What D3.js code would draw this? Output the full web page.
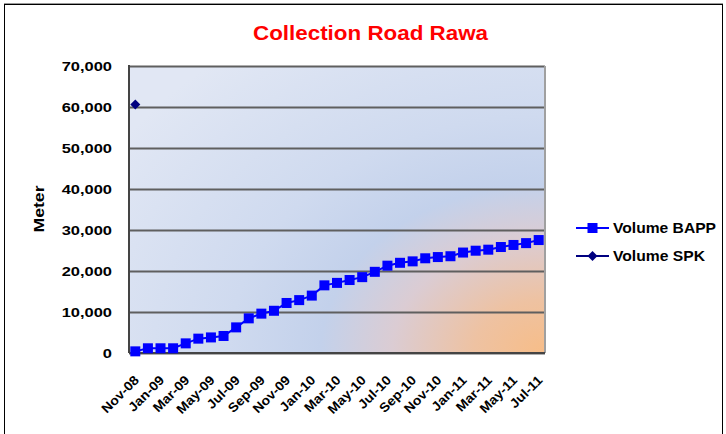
<!DOCTYPE html>
<html>
<head>
<meta charset="utf-8">
<script src="https://cdn.jsdelivr.net/npm/d3@7"></script>
<style>
  body { margin: 0; background: #fff; }
  text { font-family: "Liberation Sans", Arial, sans-serif; }
</style>
</head>
<body>
<svg width="726" height="434"></svg>
<script>
const months = ["Nov-08","Dec-08","Jan-09","Feb-09","Mar-09","Apr-09","May-09","Jun-09","Jul-09","Aug-09","Sep-09","Oct-09",
  "Nov-09","Dec-09","Jan-10","Feb-10","Mar-10","Apr-10","May-10","Jun-10","Jul-10","Aug-10","Sep-10","Oct-10",
  "Nov-10","Dec-10","Jan-11","Feb-11","Mar-11","Apr-11","May-11","Jun-11","Jul-11"];
const volumeBAPP = [400,1150,1150,1150,2350,3500,3800,4150,6250,8450,9600,10300,12200,12900,14000,16500,17100,17800,
  18500,19800,21300,22000,22350,23100,23400,23600,24500,24950,25200,25850,26350,26800,27550];
const volumeSPK = [60600];
const yTicks = [0,10000,20000,30000,40000,50000,60000,70000];

(function () {
  "use strict";
  const svg = d3.select("svg");
  const margin = { top: 66, left: 129 };
  const innerWidth = 416, innerHeight = 287;

  // outer chart frame
  svg.append("rect").attr("x", 4.5).attr("y", 4.5).attr("width", 718).attr("height", 440)
    .attr("fill", "none").attr("stroke", "#000").attr("stroke-width", 1);
  svg.append("line").attr("x1", 4).attr("x2", 723).attr("y1", 3.5).attr("y2", 3.5).attr("stroke", "#999");

  const defs = svg.append("defs");
  const rad = defs.append("radialGradient").attr("id", "bgRad")
    .attr("gradientUnits", "userSpaceOnUse").attr("cx", innerWidth).attr("cy", innerHeight).attr("r", 510)
    .attr("gradientTransform", `translate(${innerWidth},${innerHeight}) scale(1,0.75) translate(${-innerWidth},${-innerHeight})`);
  [[0, "#f7bd88"], [0.14, "#eec2a2"], [0.3, "#dbccd3"], [0.44, "#c3d1eb"], [0.62, "#cfdaef"], [1, "#e1e7f4"]]
    .forEach(([o, c]) => rad.append("stop").attr("offset", o).attr("stop-color", c));

  const g = svg.append("g").attr("transform", `translate(${margin.left},${margin.top})`);

  const xScale = d3.scalePoint().domain(months).range([0, innerWidth]).padding(0.5);
  const yScale = d3.scaleLinear().domain([0, 70000]).range([innerHeight, 0]);

  g.append("rect").attr("width", innerWidth).attr("height", innerHeight).attr("fill", "url(#bgRad)");

  // grid + y axis
  const yAxis = d3.axisLeft(yScale).tickValues(yTicks).tickSize(-innerWidth).tickPadding(0)
    .tickFormat(d3.format(","));
  const yAxisG = g.append("g").call(yAxis);
  yAxisG.select(".domain").remove();
  yAxisG.selectAll(".tick line").attr("stroke", "#5f5f5f").attr("stroke-width", 2);
  yAxisG.selectAll(".tick text").attr("font-size", 13.5).attr("font-weight", "bold").attr("fill", "#000")
    .attr("x", 0).attr("dy", "0.36em").attr("transform", "translate(-17,0) scale(1.22,1)");

  g.append("line").attr("x1", innerWidth).attr("x2", innerWidth).attr("y1", 0).attr("y2", innerHeight)
    .attr("stroke", "#a0a0a0").attr("stroke-width", 2);
  g.append("line").attr("x1", 0).attr("x2", 0).attr("y1", -1).attr("y2", innerHeight)
    .attr("stroke", "#444").attr("stroke-width", 2);
  g.append("line").attr("x1", 0).attr("x2", innerWidth).attr("y1", innerHeight).attr("y2", innerHeight)
    .attr("stroke", "#444").attr("stroke-width", 2);

  // x axis labels (every other month)
  const xAxis = d3.axisBottom(xScale).tickValues(months.filter((d, i) => i % 2 === 0)).tickSize(0);
  const xAxisG = g.append("g").attr("transform", `translate(0,${innerHeight})`).call(xAxis);
  xAxisG.select(".domain").remove();
  xAxisG.selectAll(".tick text")
    .attr("font-size", 13).attr("font-weight", "bold").attr("fill", "#000")
    .attr("text-anchor", "end").attr("dy", 0).attr("y", 0)
    .attr("transform", "translate(4,28) rotate(-45) scale(1.08,1)");

  svg.append("text").attr("transform", "translate(44,209) rotate(-90)")
    .attr("text-anchor", "middle").attr("font-size", 15).attr("font-weight", "bold")
    .attr("textLength", 47).attr("lengthAdjust", "spacingAndGlyphs").text("Meter");

  svg.append("text").attr("x", 370.5).attr("y", 40).attr("text-anchor", "middle")
    .attr("font-size", 20).attr("font-weight", "bold").attr("fill", "#ff0000")
    .attr("textLength", 235).attr("lengthAdjust", "spacingAndGlyphs").text("Collection Road Rawa");

  // series
  const line = d3.line().x((d, i) => xScale(months[i])).y((d) => yScale(d));
  g.append("path").attr("d", line(volumeBAPP)).attr("fill", "none").attr("stroke", "#0000ff").attr("stroke-width", 2);
  g.selectAll(".bapp").data(volumeBAPP).join("rect").attr("class", "bapp")
    .attr("x", (d, i) => xScale(months[i]) - 5).attr("y", (d) => yScale(d) - 5)
    .attr("width", 10).attr("height", 10).attr("fill", "#0000ff");

  const diamond = "M0,-5L5,0L0,5L-5,0Z";
  g.selectAll(".spk").data(volumeSPK).join("path").attr("class", "spk")
    .attr("transform", (d, i) => `translate(${xScale(months[i])},${yScale(d)})`)
    .attr("d", diamond).attr("fill", "#000080");

  // legend
  const legend = svg.append("g").attr("transform", "translate(576,228)");
  legend.append("line").attr("x1", 0).attr("x2", 33).attr("stroke", "#0000ff").attr("stroke-width", 2);
  legend.append("rect").attr("x", 11.5).attr("y", -5).attr("width", 10).attr("height", 10).attr("fill", "#0000ff");
  legend.append("text").attr("x", 37).attr("y", 5).attr("font-size", 14).attr("font-weight", "bold")
    .attr("textLength", 103).attr("lengthAdjust", "spacingAndGlyphs").text("Volume BAPP");
  const l2 = svg.append("g").attr("transform", "translate(576,256)");
  l2.append("line").attr("x1", 0).attr("x2", 33).attr("stroke", "#000080").attr("stroke-width", 2);
  l2.append("path").attr("transform", "translate(16.5,0)").attr("d", diamond).attr("fill", "#000080");
  l2.append("text").attr("x", 37).attr("y", 5).attr("font-size", 14).attr("font-weight", "bold")
    .attr("textLength", 92).attr("lengthAdjust", "spacingAndGlyphs").text("Volume SPK");
})();
</script>
</body>
</html>
